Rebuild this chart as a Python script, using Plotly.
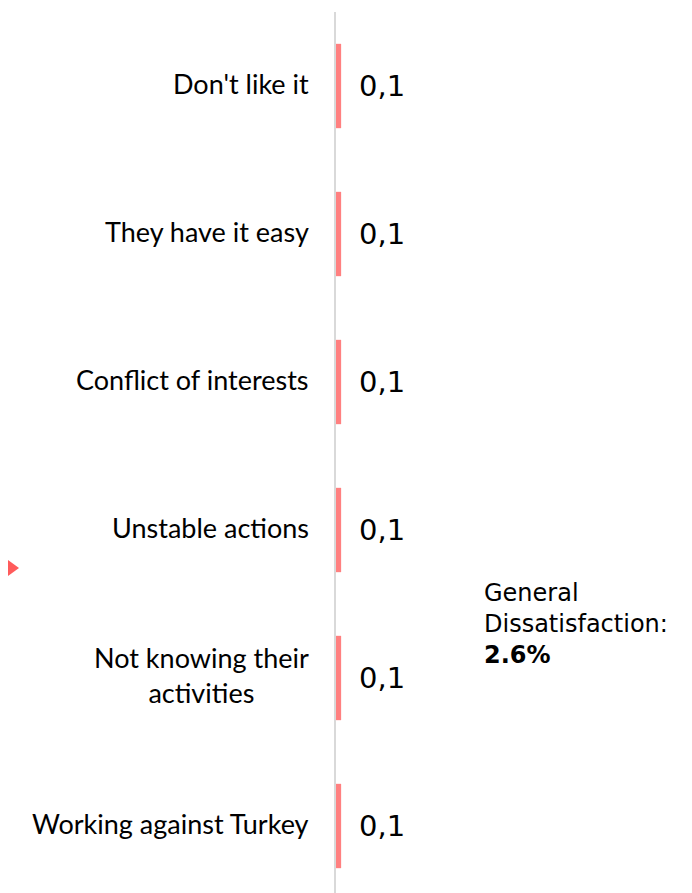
import plotly.graph_objects as go

categories = ["Don't like it", "They have it easy", "Conflict of interests",
              "Unstable actions", "Not knowing their<br>activities", "Working against Turkey"]
values = [0.1, 0.1, 0.1, 0.1, 0.1, 0.1]
value_labels = ["0,1", "0,1", "0,1", "0,1", "0,1", "0,1"]
summary_title = "General<br>Dissatisfaction:"
summary_value = "2.6%"

# the page puts the figure 8px in from the top-left corner
OFF = 8
W, H = 692, 893
ML, MT = 336 - OFF, 12 - OFF
plot_w = W - ML
plot_h = H - MT
slot = 148

def px_x(p):
    return (p - OFF - ML) / plot_w

def px_y(p):
    return (H - (p - OFF)) / plot_h

pos = list(range(len(categories)))

fig = go.Figure()
fig.add_trace(go.Bar(
    x=values, y=pos, orientation="h",
    marker=dict(color="#FF8080", line=dict(width=0)),
    width=0.57, hoverinfo="skip",
))

# category labels on the left, centered lines
for p, c in zip(pos, categories):
    fig.add_annotation(x=0, y=p, xref="x", yref="y", text=c, showarrow=False,
                       xanchor="right", yanchor="middle", align="center", xshift=-25, yshift=3,
                       font=dict(family="Lato", size=27, color="#000000"))

# value labels
for p, v, t in zip(pos, values, value_labels):
    fig.add_annotation(x=v, y=p, xref="x", yref="y", text=t, showarrow=False,
                       xanchor="left", yanchor="middle", xshift=16, yshift=0,
                       font=dict(family="DejaVu Sans", size=29, color="#000000"))

fig.add_annotation(x=px_x(482), y=px_y(624), xref="paper", yref="paper",
                   text=summary_title + "<br><b>" + summary_value + "</b>",
                   showarrow=False, xanchor="left", yanchor="middle", align="left",
                   font=dict(family="DejaVu Sans", size=24, color="#000000"))

# small pointer triangle on the left edge
fig.add_shape(type="path", xref="paper", yref="paper",
              path="M {} {} L {} {} L {} {} Z".format(px_x(8), px_y(560), px_x(19), px_y(568),
                                                      px_x(8), px_y(576)),
              fillcolor="#FF5B5B", line=dict(width=0))

fig.update_layout(
    width=W, height=H,
    margin=dict(l=ML, r=0, t=MT, b=0),
    plot_bgcolor="white", paper_bgcolor="white",
    showlegend=False,
    xaxis=dict(range=[0, 7.1], visible=False, fixedrange=True),
    yaxis=dict(range=[plot_h / slot - 0.5, -0.5], showticklabels=False, showgrid=False,
               zeroline=False, showline=True, linecolor="#D9D9D9", linewidth=2, ticks=""),
)

fig.write_html("out.html")
